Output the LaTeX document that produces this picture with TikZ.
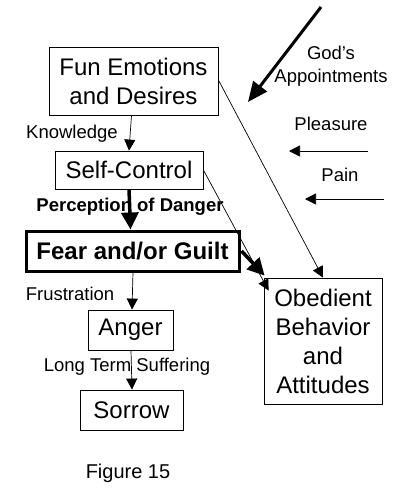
\documentclass[tikz,border=0pt]{standalone}
\usepackage{fontspec}
\setmainfont{Liberation Sans}
\usetikzlibrary{arrows.meta,calc}
\begin{document}
\begin{tikzpicture}[x=1pt,y=-1pt,
  box/.style={draw, line width=0.8pt, align=center, inner sep=0pt,
    font=\fontsize{24}{29}\selectfont},
  lbl/.style={inner sep=0pt, font=\fontsize{18.5}{22}\selectfont},
  thin/.style={line width=0.7pt, -{Triangle[length=11pt,width=11pt]}},
  thick/.style={line width=3.5pt, -{Triangle[length=17pt,width=17pt]}},
  thickg/.style={line width=3pt, -{Triangle[length=20pt,width=17pt]}}]
\useasboundingbox (0,0) rectangle (403,498);
\fill[white] (0,0) rectangle (403,498);
\node[box, minimum width=169pt, minimum height=68pt] (fun) at (133.5,81) {Fun Emotions\\and Desires};
\node[box, minimum width=148pt, minimum height=38pt] (self) at (129,170) {Self-Control};
\node[box, line width=3pt, minimum width=213pt, minimum height=40pt, font=\fontsize{24}{29}\selectfont\bfseries] (fear) at (132.5,251) {Fear and/or Guilt};
\node[box, minimum width=85pt, minimum height=40pt] (anger) at (130.5,330) {Anger};
\node[box, minimum width=103pt, minimum height=40pt] (sorrow) at (131.5,410) {Sorrow};
\node[box, minimum width=118pt, minimum height=126pt] (obed) at (323,341) {Obedient\\Behavior\\and\\Attitudes};

\node[lbl] (know) at (72,134) {Knowledge};
\node[lbl, font=\fontsize{18.5}{22}\selectfont\bfseries] (perc) at (130,207) {Perception of Danger};
\node[lbl] (frus) at (70,294) {Frustration};
\node[lbl] (lts) at (127,367) {Long Term Suffering};
\node[lbl, align=center, font=\fontsize{18.5}{23}\selectfont] (god) at (331,66) {God’s\\Appointments};
\node[lbl] (pleas) at (331,124) {Pleasure};
\node[lbl] (pain) at (340,175) {Pain};
\node[inner sep=0pt, font=\fontsize{20}{24}\selectfont] (fig) at (128,473) {Figure 15};

\coordinate (g1) at (321,7);
\coordinate (g2) at (248,102);
\coordinate (p1) at (368,151);
\coordinate (p2) at (289,151);
\coordinate (q1) at (384,199);
\coordinate (q2) at (305,199);

\draw[thin] ($(fun.south)+(-2,0)$) -- ($(self.north)+(0,0)$);
\draw[thick] (self.south) -- ($(fear.north)+(-2,0)$);
\draw[thin] ($(fear.south)+(0.5,0)$) -- ($(anger.north)+(1.5,0)$);
\draw[thin] ($(anger.south)+(0.5,0)$) -- ($(sorrow.north)+(0.5,0)$);
\draw[thin] ($(fun.east)+(0,-1)$) -- (obed.north);
\draw[thin] (self.east) -- ($(obed.north west)+(5,13)$);
\draw[thick] ($(fear.east)+(1,0)$) -- ($(obed.north west)+(1,-2)$);
\draw[thickg] (g1) -- (g2);
\draw[thin] (p1) -- (p2);
\draw[thin] (q1) -- (q2);
\end{tikzpicture}
\end{document}
